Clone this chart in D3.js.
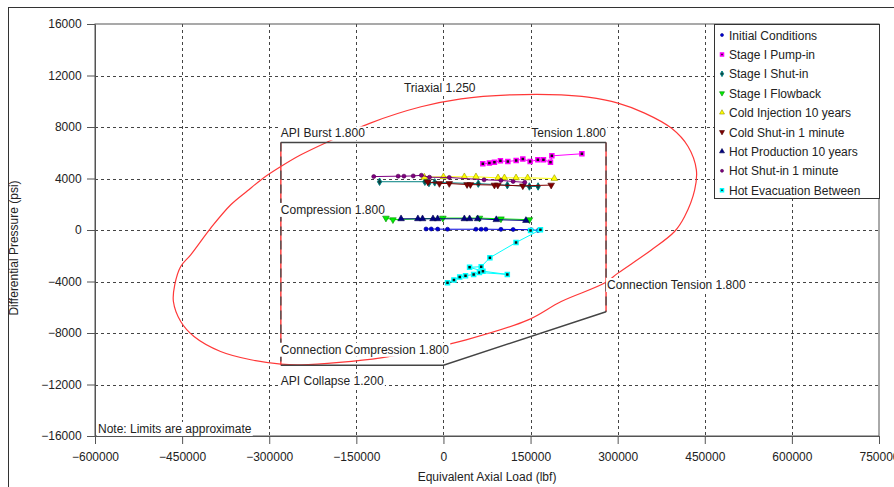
<!DOCTYPE html>
<html>
<head>
<meta charset="utf-8">
<script src="https://cdn.jsdelivr.net/npm/d3@7"></script>
<style>
  body { margin: 0; background: #fff; }
  text { font-family: "Liberation Sans", Arial, sans-serif; }
</style>
</head>
<body>
<script>
//Tick values
const xTickValues = [-600000, -450000, -300000, -150000, 0, 150000, 300000, 450000, 600000, 750000];
const yTickValues = [-16000, -12000, -8000, -4000, 0, 4000, 8000, 12000, 16000];

//Load cases [axial load, differential pressure]
const initialConditions = [[-30000,80],[-21000,80],[-10000,70],[7000,60],[56000,60],[65000,60],[73000,60],[99000,50],[120000,40],[151000,20],[163000,-40]];
const stagePumpIn = [[67800,5140],[79100,5200],[87800,5270],[98100,5370],[110900,5320],[125200,5400],[136700,5510],[149300,5320],[162600,5450],[172200,5450],[184300,5270],[186700,5760],[238400,5920]];
const stageShutIn = [[-110000,3750],[-32000,3750],[-25000,3650],[-15000,3700],[60000,3600],[110000,3480],[148000,3380],[163000,3380]];
const stageFlowback = [[-99000,925],[-87000,800],[-1000,925],[62000,925],[99000,870],[148000,800]];
const coldInjection = [[-33000,4100],[0,4130],[36000,4130],[56000,4130],[94000,4050],[105000,4050],[125000,4050],[145000,4050],[191000,4000]];
const coldShutIn = [[-27000,3740],[-7000,3610],[10000,3610],[40700,3530],[46400,3530],[87800,3490],[93600,3490],[136700,3430],[185500,3490]];
const hotProduction = [[-73000,870],[-44000,870],[-36000,870],[-18000,870],[-10000,870],[36000,870],[45000,870],[59000,870],[91000,800],[142000,740]];
const hotShutIn = [[-120000,4150],[-78000,4180],[-68000,4180],[-52000,4200],[-38000,4250],[-24000,4100],[10000,4080],[70000,3900],[99000,3850],[120000,3770],[140000,3700]];
const hotEvacuation = [[7000,-4100],[18000,-3880],[28000,-3650],[38000,-3550],[52000,-3450],[62000,-3300],[110000,-3450],[68000,-3200],[45000,-2900],[65000,-2850],[80000,-2150],[125000,-970],[167000,20],[150000,-40]];

const seriesNames = ["Initial Conditions", "Stage I Pump-in", "Stage I Shut-in", "Stage I Flowback", "Cold Injection 10 years", "Cold Shut-in 1 minute", "Hot Production 10 years", "Hot Shut-in 1 minute", "Hot Evacuation Between"];
const seriesData = [initialConditions, stagePumpIn, stageShutIn, stageFlowback, coldInjection, coldShutIn, hotProduction, hotShutIn, hotEvacuation];
const seriesColors = ["#0000dd", "#ff00ff", "#008080", "#00ee00", "#ffff00", "#800000", "#000080", "#800080", "#00ffff"];
const seriesShapes = ["circle", "square", "diamond", "down", "up", "down", "up", "circle", "square"];

//Design envelope
const triaxial = [[-245500,5840],[-280000,4930],[-308800,4080],[-337400,3045],[-366200,1960],[-400700,150],[-435200,-1925],[-452400,-2835],[-462700,-4260],[-465000,-5550],[-452400,-7105],[-429500,-8270],[-383800,-9435],[-331700,-10080],[-280000,-10415],[-245500,-10470],[-107600,-9930],[-38600,-9310],[39000,-8530],[145900,-6980],[202800,-5550],[277400,-4120],[300500,-3350],[358000,-1550],[398000,-115],[415300,1050],[432600,3120],[435500,4675],[421200,6485],[392400,7915],[346400,9080],[300500,9855],[248800,10320],[202700,10500],[116500,10500],[30300,10190],[-38600,9570],[-124800,8325],[-199000,6850]];
const burstLine = [[-280000,6800],[280000,6800]];
const compressionLine = [[-280000,6800],[-280000,-10500]];
const tensionLine = [[280000,6800],[280000,-6350]];
const collapseLine = [[-280000,-10500],[0,-10500],[280000,-6350]];

const margin = {top: 24, right: 15, bottom: 51, left: 95},
    width = 894 - margin.left - margin.right,
    height = 487 - margin.top - margin.bottom;

const svg0 = d3.select("body").append("svg")
  .attr("width", 894)
  .attr("height", 487);

//Outer frame
svg0.append("rect")
  .attr("x", 8.5).attr("y", 7.5)
  .attr("width", 900).attr("height", 500)
  .attr("fill", "none").attr("stroke", "#333");

const svg = svg0.append("g")
  .attr("transform", "translate(" + margin.left + "," + margin.top + ")");

const x = d3.scaleLinear().domain([-600000, 750000]).range([0, width]);
const y = d3.scaleLinear().domain([-16000, 16000]).range([height, 0]);

//Grid
svg.append("g")
  .selectAll("line")
  .data(xTickValues.slice(1, -1))
  .enter().append("line")
    .attr("x1", d => Math.round(x(d)) + 0.5).attr("x2", d => Math.round(x(d)) + 0.5)
    .attr("y1", 0).attr("y2", height)
    .attr("stroke", "#444").attr("stroke-dasharray", "3,3");
svg.append("g")
  .selectAll("line")
  .data(yTickValues.slice(1, -1))
  .enter().append("line")
    .attr("y1", d => Math.round(y(d)) + 0.5).attr("y2", d => Math.round(y(d)) + 0.5)
    .attr("x1", 0).attr("x2", width)
    .attr("stroke", "#444").attr("stroke-dasharray", "3,3");

//Axes
const xAxis = svg.append("g")
  .attr("transform", "translate(0," + height + ")")
  .call(d3.axisBottom(x).tickValues(xTickValues).tickFormat(d3.format("d")).tickSize(8).tickSizeOuter(0));
const yAxis = svg.append("g")
  .call(d3.axisLeft(y).tickValues(yTickValues).tickFormat(d3.format("d")).tickSize(8).tickSizeOuter(0));
[xAxis, yAxis].forEach(a => {
  a.selectAll("path").attr("stroke", "#555");
  a.selectAll("line").attr("stroke", "#555");
  a.selectAll("text").attr("font-size", "12px").attr("fill", "#222")
    .attr("font-family", "Liberation Sans, Arial, sans-serif");
});
xAxis.selectAll("text").attr("dy", "1.2em");
yAxis.selectAll("text").attr("dx", "-0.2em");

//Plot frame
svg.append("rect")
  .attr("x", 0).attr("y", 0).attr("width", width).attr("height", height)
  .attr("fill", "none").attr("stroke", "#555");

//Axis titles
svg0.append("text")
  .attr("x", margin.left + width / 2).attr("y", 481)
  .attr("text-anchor", "middle").attr("font-size", "12px").attr("fill", "#222")
  .text("Equivalent Axial Load (lbf)");
svg0.append("text")
  .attr("transform", "translate(18,248) rotate(-90)")
  .attr("text-anchor", "middle").attr("font-size", "12px").attr("fill", "#222")
  .text("Differential Pressure (psi)");

const line = d3.line().x(d => x(d[0])).y(d => y(d[1]));

//Triaxial ellipse
svg.append("path")
  .datum(triaxial)
  .attr("d", d3.line().x(d => x(d[0])).y(d => y(d[1])).curve(d3.curveCatmullRomClosed))
  .attr("fill", "none").attr("stroke", "#ff3838").attr("stroke-width", 1.2);

//Connection limits (red) under the pipe body limits (grey dashes)
[compressionLine, tensionLine].forEach(l => {
  svg.append("path").datum(l).attr("d", line)
    .attr("fill", "none").attr("stroke", "#ff4040").attr("stroke-width", 1.5);
  svg.append("path").datum(l).attr("d", line)
    .attr("fill", "none").attr("stroke", "#555").attr("stroke-width", 1.5)
    .attr("stroke-dasharray", "9,5");
});
[burstLine, collapseLine].forEach(l => {
  svg.append("path").datum(l).attr("d", line)
    .attr("fill", "none").attr("stroke", "#444").attr("stroke-width", 1.5);
});

//Labels with white background
const label = (txt, px, py, anchor) => {
  const t = svg.append("text")
    .attr("x", px).attr("y", py)
    .attr("text-anchor", anchor || "start")
    .attr("font-size", "12px").attr("fill", "#222")
    .text(txt);
  const b = t.node().getBBox();
  svg.insert("rect", () => t.node())
    .attr("x", b.x - 1).attr("y", b.y).attr("width", b.width + 2).attr("height", b.height)
    .attr("fill", "#fff");
};
label("Triaxial 1.250", x(-68000), y(10700));
label("API Burst 1.800", x(-280000), y(6800) - 5);
label("Tension 1.800", x(280000), y(6800) - 5, "end");
label("Compression 1.800", x(-280000), y(1250));
label("Connection Compression 1.800", x(-280000), y(-9610));
label("API Collapse 1.200", x(-280000), y(-12020));
label("Connection Tension 1.800", x(280000) + 1, y(-4580));
label("Note: Limits are approximate", 3, height - 3);

//Marker shapes
const symbolFor = (s, size) => {
  if (s === "circle") return d3.symbol(d3.symbolCircle, size * 0.8)();
  if (s === "square") return d3.symbol(d3.symbolSquare, size)();
  if (s === "diamond") return d3.symbol(d3.symbolDiamond, size)();
  return d3.symbol(d3.symbolTriangle, size * 1.2)();
};
const drawMarker = (g, s, color, size) => {
  const p = g.append("path")
    .attr("d", symbolFor(s, size))
    .attr("transform", s === "down" ? "rotate(180)" : null);
  if (s === "square") {
    p.attr("fill", "#111").attr("stroke", color).attr("stroke-width", 1.5);
  } else if (s === "diamond") {
    p.attr("fill", "#114040").attr("stroke", color).attr("stroke-width", 1);
  } else {
    p.attr("fill", color).attr("stroke", d3.color(color).darker(1.5)).attr("stroke-width", 0.6);
  }
};

//Series
seriesData.forEach((data, i) => {
  svg.append("path").datum(data).attr("d", line)
    .attr("fill", "none").attr("stroke", seriesColors[i]).attr("stroke-width", 1);
  data.forEach(d => {
    const g = svg.append("g").attr("transform", "translate(" + x(d[0]) + "," + y(d[1]) + ")");
    drawMarker(g, seriesShapes[i], seriesColors[i], 16);
  });
});

//Legend
const legend = svg.append("g").attr("transform", "translate(" + (width - 165) + ",0)");
legend.append("rect")
  .attr("x", 0.5).attr("y", 0.5).attr("width", 165).attr("height", 174)
  .attr("fill", "#fff").attr("stroke", "#333");
seriesNames.forEach((n, i) => {
  const gy = 11 + i * 19.4;
  const g = legend.append("g").attr("transform", "translate(8," + gy + ")");
  drawMarker(g, seriesShapes[i], seriesColors[i], 9);
  legend.append("text")
    .attr("x", 15).attr("y", gy + 4.5)
    .attr("font-size", "12px").attr("fill", "#222")
    .text(n);
});
</script>
</body>
</html>
